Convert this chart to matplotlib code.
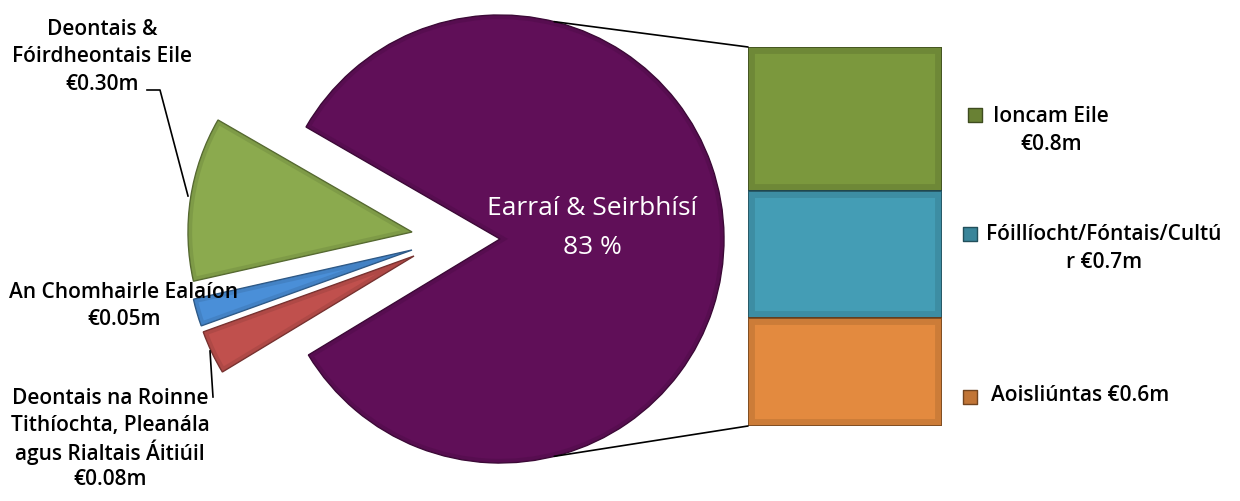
import numpy as np
import matplotlib
matplotlib.use('Agg')
import matplotlib.pyplot as plt
from matplotlib.patches import ConnectionPatch, Wedge
from matplotlib.colors import to_rgb

plt.rcParams['font.family'] = ['Open Sans', 'DejaVu Sans']

# data
pie_names = ['Deontais &\nFóirdheontais Eile', 'An Chomhairle Ealaíon',
             'Deontais na Roinne\nTithíochta, Pleanála\nagus Rialtais Áitiúil']
pie_small = [0.30, 0.05, 0.08]
main_name = 'Earraí & Seirbhísí'
bar_names = ['Ioncam Eile\n', 'Fóillíocht/Fóntais/Cultú\nr ', 'Aoisliúntas ']
bar_values = [0.8, 0.7, 0.6]

pie_colors = ['#8BAA4E', '#4A8FD8', '#C0504D', '#600F58']
bar_colors = ['#7B983D', '#449DB5', '#E38A3F']

W, H = 1240, 502
fig = plt.figure(figsize=(W / 100, H / 100), dpi=100)
ax = fig.add_axes([0, 0, 1, 1])

def darker(c, f=0.55):
    return tuple(np.array(to_rgb(c)) * f)

def lines(x, y, txt, step, **kw):
    # one text per line, fixed spacing like the original
    parts = txt.split('\n')
    y0 = y + step * (len(parts) - 1) / 2
    for i, p in enumerate(parts):
        ax.text(x, y0 - i * step, p, ha='center', va='center', **kw)

main_value = sum(bar_values)
values = pie_small + [main_value]
R = 224
cx, cy = 500, H - 240
wedges, _ = ax.pie(values, colors=pie_colors, startangle=150, radius=R,
                   center=(cx, cy), frame=True)
# small slices pulled out to the left
small_centers = [(412, H - 233), (412, H - 251), (414, H - 257)]
for w, c in zip(wedges[:3], small_centers):
    w.set_center(c)
for w in wedges:
    fc = w.get_facecolor()
    w.set_edgecolor(darker(fc, 0.6))
    w.set_linewidth(1.0)
    rim = Wedge(w.center, w.r, w.theta1, w.theta2, fc='none',
                ec=darker(fc, 0.75), lw=6, alpha=0.35)
    ax.add_patch(rim)
    rim.set_clip_path(w)

ax.set_xlim(0, W)
ax.set_ylim(0, H)
ax.set_aspect('equal')
ax.axis('off')

pct = main_value / sum(values) * 100
lines(592, H - 228, f'{main_name}\n{pct:.0f} %', 39, color='white', fontsize=19)

# labels of small slices
lab_pos = [(102, H - 57), (124, H - 306), (110, H - 439)]
for name, v, (x, y) in zip(pie_names, pie_small, lab_pos):
    lines(x, y, f'{name}\n€{v:.2f}m', 27.3, fontsize=15, fontweight='semibold')
ax.plot([147, 160, 188], [H - 91, H - 91, H - 197], color='black', lw=1.2)
ax.plot([213, 210], [H - 398, H - 352], color='black', lw=1.2)

# bar of pie
bax = fig.add_axes([748 / W, 75 / H, 194 / W, 379 / H])
bottom = main_value
for v, c in zip(bar_values, bar_colors):
    bottom -= v
    bars = bax.bar(0, v, bottom=bottom, width=1, color=c, edgecolor=darker(c, 0.45), lw=1.4)
    rim = bax.bar(0, v, bottom=bottom, width=1, color='none', edgecolor=darker(c, 0.75),
                  lw=10, alpha=0.4)
    rim[0].set_clip_path(bars[0])
bax.set_xlim(-0.5, 0.5)
bax.set_ylim(0, main_value)
bax.axis('off')

# connector lines
for ang, yb in [(76, main_value), (-76, 0)]:
    a = np.deg2rad(ang)
    con = ConnectionPatch(xyA=(cx + R * np.cos(a), cy + R * np.sin(a)), coordsA=ax.transData,
                          xyB=(-0.5, yb), coordsB=bax.transData, color='black', lw=1.2)
    fig.add_artist(con)

# legend
leg_pos = [(975, 130, 1051), (970, 249, 1104), (970, 396, 1080)]
for name, v, c, (mx, ty, tx) in zip(bar_names, bar_values, bar_colors, leg_pos):
    my = ty - 14 if '\n' in name else ty + 2
    ax.scatter([mx], [H - my], marker='s', s=110, color=darker(c, 0.85),
               edgecolor=darker(c, 0.5), lw=1)
    lines(tx, H - ty, f'{name}€{v:.1f}m', 28, fontsize=15, fontweight='semibold')

fig.savefig('out.png', dpi=100)
